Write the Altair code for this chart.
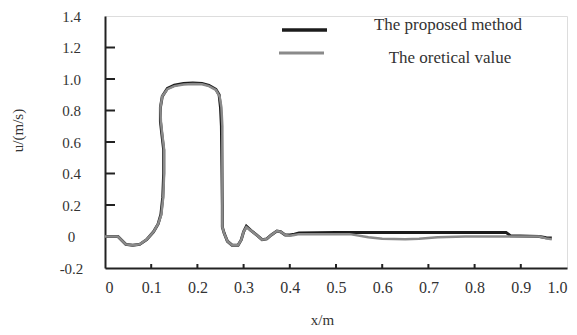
import altair as alt
import pandas as pd

# Theoretical value (gray)
theo_x = [0.0, 0.028, 0.045, 0.06, 0.075, 0.09, 0.105, 0.115, 0.122, 0.126, 0.128, 0.128,
          0.124, 0.121, 0.12, 0.124, 0.135, 0.15, 0.17, 0.19, 0.21, 0.225, 0.24, 0.248,
          0.252, 0.254, 0.254, 0.254, 0.254, 0.258, 0.265, 0.275, 0.288, 0.295, 0.3,
          0.306, 0.315, 0.328, 0.34, 0.35, 0.36, 0.372, 0.38, 0.39, 0.4, 0.41, 0.42,
          0.47, 0.53, 0.57, 0.6, 0.65, 0.68, 0.72, 0.78, 0.85, 0.94, 0.955, 0.967]
theo_y = [0.0, 0.0, -0.05, -0.055, -0.05, -0.02, 0.03, 0.08, 0.14, 0.25, 0.4, 0.55,
          0.65, 0.73, 0.82, 0.89, 0.935, 0.955, 0.965, 0.968, 0.966, 0.955, 0.93, 0.89,
          0.82, 0.7, 0.45, 0.2, 0.06, 0.02, -0.03, -0.055, -0.055, -0.02, 0.03,
          0.06, 0.04, 0.01, -0.02, -0.015, 0.01, 0.035, 0.03, 0.01, 0.005, 0.01, 0.015,
          0.015, 0.015, -0.005, -0.015, -0.017, -0.015, -0.005, 0.0, 0.0, 0.0, -0.012, -0.018]

# Proposed method (black)
prop_x = [0.0, 0.028, 0.045, 0.06, 0.075, 0.09, 0.105, 0.115, 0.121, 0.125, 0.127, 0.127,
          0.123, 0.12, 0.12, 0.124, 0.135, 0.15, 0.17, 0.19, 0.21, 0.225, 0.24, 0.247,
          0.25, 0.252, 0.253, 0.254, 0.254, 0.258, 0.265, 0.275, 0.288, 0.295, 0.3,
          0.306, 0.315, 0.328, 0.34, 0.35, 0.36, 0.372, 0.38, 0.39, 0.4, 0.41, 0.42,
          0.5, 0.6, 0.7, 0.8, 0.868, 0.878, 0.94, 0.955, 0.967]
prop_y = [0.0, 0.0, -0.05, -0.055, -0.05, -0.02, 0.03, 0.08, 0.14, 0.25, 0.4, 0.55,
          0.65, 0.73, 0.82, 0.89, 0.94, 0.96, 0.972, 0.975, 0.972, 0.96, 0.935, 0.9,
          0.82, 0.7, 0.45, 0.2, 0.06, 0.02, -0.03, -0.055, -0.055, -0.02, 0.03,
          0.065, 0.04, 0.01, -0.02, -0.015, 0.01, 0.035, 0.03, 0.01, 0.01, 0.015, 0.022,
          0.026, 0.026, 0.026, 0.026, 0.026, 0.004, 0.0, -0.008, -0.01]

x_ticks = [0.1, 0.2, 0.3, 0.4, 0.5, 0.6, 0.7, 0.8, 0.9]
y_ticks = [0.0, 0.2, 0.4, 0.6, 0.8, 1.0, 1.2]
x_labels = [0.0, 0.1, 0.2, 0.3, 0.4, 0.5, 0.6, 0.7, 0.8, 0.9, 1.0]
y_labels = [-0.2, 0.0, 0.2, 0.4, 0.6, 0.8, 1.0, 1.2, 1.4]

S_PROP = "The proposed method"
S_THEO = "The oretical value"

df_prop = pd.DataFrame({"x": prop_x, "y": prop_y, "order": range(len(prop_x))})
df_theo = pd.DataFrame({"x": theo_x, "y": theo_y, "order": range(len(theo_x))})

W, H = 462, 252
FONT = "Liberation Serif"
TXT = "#333333"
BLACK = "#1c1c1c"
GRAY = "#8a8a8a"

lab_expr = ("datum.value == 0 ? '0' : (datum.value < 0 ? '-' + format(-datum.value, '.1f') "
            ": format(datum.value, '.1f'))")

xscale = alt.Scale(domain=[0, 1], nice=False, zero=False)
yscale = alt.Scale(domain=[-0.2, 1.4], nice=False, zero=False)

x_axis = alt.Axis(
    values=x_labels, labelExpr=lab_expr, ticks=False, tickSize=0, grid=False,
    labelOverlap=False, labelPadding=11, labelFont=FONT, labelFontSize=16, labelColor=TXT,
    domainColor="#222222", domainWidth=2,
    title="x/m", titleFont=FONT, titleFontSize=15, titleColor=TXT, titleFontWeight="normal",
    titleX=217, titleY=51, titleBaseline="middle", titleAlign="center",
)
y_axis = alt.Axis(
    values=y_labels, labelExpr=lab_expr, ticks=False, tickSize=0, grid=False,
    labelOverlap=False, labelPadding=34, labelAlign="center", labelBaseline="middle",
    labelFont=FONT, labelFontSize=15, labelColor=TXT,
    domainColor="#222222", domainWidth=2,
    title="u/(m/s)", titleFont=FONT, titleFontSize=15, titleColor=TXT, titleFontWeight="normal",
    titleX=-88, titleY=114, titleAngle=270, titleBaseline="middle", titleAlign="center",
)

X = alt.X("x:Q", scale=xscale, axis=x_axis)
Y = alt.Y("y:Q", scale=yscale, axis=y_axis)

lines_prop = alt.Chart(df_prop).mark_line(strokeWidth=3, color=BLACK).encode(
    x=X, y=Y, order="order:Q")
lines_theo = alt.Chart(df_theo).mark_line(strokeWidth=2.5, color=GRAY).encode(
    x=X, y=Y, order="order:Q")

yticks = alt.Chart(pd.DataFrame({"y": y_ticks})).mark_rule(color="#222222", strokeWidth=2).encode(
    y=Y, x=alt.value(0), x2=alt.value(10))
xticks = alt.Chart(pd.DataFrame({"x": x_ticks})).mark_rule(color="#222222", strokeWidth=2).encode(
    x=X, y=alt.value(H), y2=alt.value(H - 4))

# legend (manual, to match the reference's tight layout)
leg_prop = pd.DataFrame({"label": [S_PROP]})
leg_theo = pd.DataFrame({"label": [S_THEO]})
leg_line1 = alt.Chart(leg_prop).mark_rule(color=BLACK, strokeWidth=3.5).encode(
    x=alt.value(177), x2=alt.value(222), y=alt.value(14))
leg_line2 = alt.Chart(leg_theo).mark_rule(color=GRAY, strokeWidth=3).encode(
    x=alt.value(174), x2=alt.value(219), y=alt.value(37))
leg_text1 = alt.Chart(leg_prop).mark_text(
    font=FONT, fontSize=17, color=TXT, align="center", baseline="middle").encode(
    text="label:N", x=alt.value(343), y=alt.value(9))
leg_text2 = alt.Chart(leg_theo).mark_text(
    font=FONT, fontSize=17, color=TXT, align="center", baseline="middle").encode(
    text="label:N", x=alt.value(345), y=alt.value(42))

chart = alt.layer(
    yticks, xticks, lines_prop, lines_theo, leg_line1, leg_line2, leg_text1, leg_text2
).properties(
    width=W, height=H,
    autosize=alt.AutoSizeParams(type="none"),
    padding={"left": 97, "top": 8, "right": 2, "bottom": 59},
).configure_view(stroke="#222222", strokeWidth=2).configure(background="white")

chart.save("out.html", embed_options={"renderer": "svg", "actions": False})
